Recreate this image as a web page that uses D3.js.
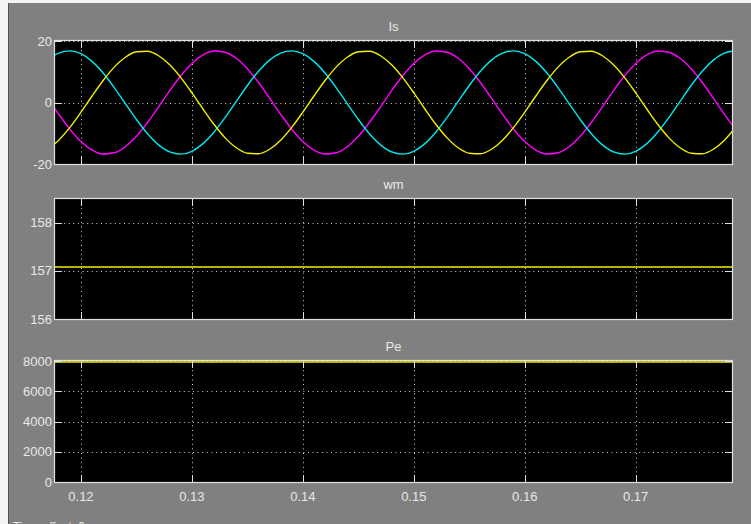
<!DOCTYPE html>
<html><head><meta charset="utf-8">
<script src="https://cdn.jsdelivr.net/npm/d3@7"></script>
<style>
html,body{margin:0;padding:0;background:#808080;overflow:hidden}
svg{display:block}
text{font-family:"Liberation Sans Narrow","Liberation Sans",Arial,sans-serif;fill:#e8e8e8}
</style></head><body>
<svg id="chart" width="751" height="524"></svg>
<script>
// ---- data ----
const timeMs = d3.range(117, 180); // sample instants in ms (117..179)
const isYellow = [
 -15.20,-12.25,-8.09,-3.15,2.11,7.15,11.50,14.72,16.50,16.67,15.20,12.25,8.09,3.15,-2.11,-7.15,-11.50,-14.72,-16.50,-16.67,
 -15.20,-12.25,-8.09,-3.15,2.11,7.15,11.50,14.72,16.50,16.67,15.20,12.25,8.09,3.15,-2.11,-7.15,-11.50,-14.72,-16.50,-16.67,
 -15.20,-12.25,-8.09,-3.15,2.11,7.15,11.50,14.72,16.50,16.67,15.20,12.25,8.09,3.15,-2.11,-7.15,-11.50,-14.72,-16.50,-16.67,
 -15.20,-12.25,-8.09];
const isCyan = [
 13.79,16.08,16.80,15.87,13.38,9.59,4.86,-0.35,-5.53,-10.16,-13.79,-16.08,-16.80,-15.87,-13.38,-9.59,-4.86,0.35,5.53,10.16,
 13.79,16.08,16.80,15.87,13.38,9.59,4.86,-0.35,-5.53,-10.16,-13.79,-16.08,-16.80,-15.87,-13.38,-9.59,-4.86,0.35,5.53,10.16,
 13.79,16.08,16.80,15.87,13.38,9.59,4.86,-0.35,-5.53,-10.16,-13.79,-16.08,-16.80,-15.87,-13.38,-9.59,-4.86,0.35,5.53,10.16,
 13.79,16.08,16.80];
const isMagenta = [
 1.41,-3.84,-8.70,-12.72,-15.49,-16.74,-16.36,-14.37,-10.98,-6.51,-1.41,3.84,8.70,12.72,15.49,16.74,16.36,14.37,10.98,6.51,
 1.41,-3.84,-8.70,-12.72,-15.49,-16.74,-16.36,-14.37,-10.98,-6.51,-1.41,3.84,8.70,12.72,15.49,16.74,16.36,14.37,10.98,6.51,
 1.41,-3.84,-8.70,-12.72,-15.49,-16.74,-16.36,-14.37,-10.98,-6.51,-1.41,3.84,8.70,12.72,15.49,16.74,16.36,14.37,10.98,6.51,
 1.41,-3.84,-8.70];
const wmTime = [0.1170, 0.1790];
const wmValues = [157.08, 157.08];
const peTime = [0.1170, 0.1790];
const peValues = [7930, 7930];
const xTicks = [0.12, 0.13, 0.14, 0.15, 0.16, 0.17];
const isTicks = [-20, 0, 20];
const wmTicks = [156, 157, 158];
const peTicks = [0, 2000, 4000, 6000, 8000];
const titles = ["Is", "wm", "Pe"];

// ---- layout ----
const svg = d3.select("#chart");
const W = 751, H = 524;
svg.append("rect").attr("width", W).attr("height", H).attr("fill", "#808080");
svg.append("rect").attr("x", 0).attr("y", 0).attr("width", W).attr("height", 3).attr("fill", "#f4f4f4");
svg.append("rect").attr("x", 0).attr("y", 0).attr("width", 8).attr("height", H).attr("fill", "#f4f4f4");
svg.append("rect").attr("x", 8).attr("y", 3).attr("width", 1).attr("height", H).attr("fill", "#505050");

const left = 55, right = 732;
const x = d3.scaleLinear().domain([0.11766, 0.17868]).range([left, right]);

const panels = [
  {top: 41, bottom: 164, domain: [-20, 20], ticks: isTicks,
   series: [
     {t: timeMs.map(d => d / 1000), v: isMagenta, color: "#ff00ff"},
     {t: timeMs.map(d => d / 1000), v: isCyan, color: "#00e8ee"},
     {t: timeMs.map(d => d / 1000), v: isYellow, color: "#f0f000"}
   ]},
  {top: 199, bottom: 319, domain: [156, 158.49], ticks: wmTicks,
   series: [{t: wmTime, v: wmValues, color: "#f0f000"}]},
  {top: 361, bottom: 482, domain: [0, 8000], ticks: peTicks,
   series: [{t: peTime, v: peValues, color: "#f0f000"}]}
];

const gridColor = "#d0d0d0";
const frameColor = "#e0e0e0";

panels.forEach((p, i) => {
  const y = d3.scaleLinear().domain(p.domain).range([p.bottom, p.top]);
  const g = svg.append("g");
  g.append("rect").attr("x", left).attr("y", p.top).attr("width", right - left).attr("height", p.bottom - p.top).attr("fill", "#000");

  // grid
  g.selectAll(".gx").data(xTicks).join("line")
    .attr("x1", d => Math.round(x(d)) + 0.5).attr("x2", d => Math.round(x(d)) + 0.5)
    .attr("y1", p.top).attr("y2", p.bottom)
    .attr("stroke", gridColor).attr("stroke-width", 1).attr("stroke-dasharray", "1,3.6");
  g.selectAll(".gy").data(p.ticks).join("line")
    .attr("x1", left).attr("x2", right)
    .attr("y1", d => Math.round(y(d)) + 0.5).attr("y2", d => Math.round(y(d)) + 0.5)
    .attr("stroke", gridColor).attr("stroke-width", 1).attr("stroke-dasharray", "1,3.6");

  // clip
  const cid = "clip" + i;
  svg.append("clipPath").attr("id", cid).append("rect")
    .attr("x", left).attr("y", p.top - 1).attr("width", right - left).attr("height", p.bottom - p.top + 2);

  const line = d3.line().x(d => x(d[0])).y(d => y(d[1])).curve(d3.curveMonotoneX);
  p.series.forEach(s => {
    const pts = s.t.map((t, k) => [t, s.v[k]]);
    g.append("path").attr("d", line(pts)).attr("fill", "none")
      .attr("stroke", s.color).attr("stroke-width", 1.4)
      .attr("clip-path", "url(#" + cid + ")");
  });

  // frame
  g.append("rect").attr("x", left - 0.5).attr("y", p.top - 0.5).attr("width", right - left + 1).attr("height", p.bottom - p.top + 1)
    .attr("fill", "none").attr("stroke", frameColor).attr("stroke-width", 1.2);

  // ticks inside
  const tl = 7;
  xTicks.forEach(d => {
    const xx = Math.round(x(d)) + 0.5;
    g.append("line").attr("x1", xx).attr("x2", xx).attr("y1", p.bottom).attr("y2", p.bottom - tl).attr("stroke", frameColor);
    g.append("line").attr("x1", xx).attr("x2", xx).attr("y1", p.top).attr("y2", p.top + tl).attr("stroke", frameColor);
  });
  p.ticks.forEach(d => {
    const yy = Math.round(y(d)) + 0.5;
    g.append("line").attr("x1", left).attr("x2", left + tl).attr("y1", yy).attr("y2", yy).attr("stroke", frameColor);
    g.append("line").attr("x1", right).attr("x2", right - tl).attr("y1", yy).attr("y2", yy).attr("stroke", frameColor);
  });

  // y tick labels
  g.selectAll(".yl").data(p.ticks).join("text")
    .attr("x", left - 3).attr("y", d => y(d)).attr("dy", "0.35em")
    .attr("text-anchor", "end").attr("font-size", 13).text(d => d);

  // title
  g.append("text").attr("x", (left + right) / 2).attr("y", p.top - 10)
    .attr("text-anchor", "middle").attr("font-size", 13).text(titles[i]);
});

// x tick labels (bottom panel only)
svg.selectAll(".xl").data(xTicks).join("text")
  .attr("x", d => x(d)).attr("y", 496).attr("dy", "0.35em")
  .attr("text-anchor", "middle").attr("font-size", 13).text(d => d);

svg.append("text").attr("x", 13).attr("y", 531).attr("font-size", 12).text("Time offset:  0");
</script>
</body></html>
